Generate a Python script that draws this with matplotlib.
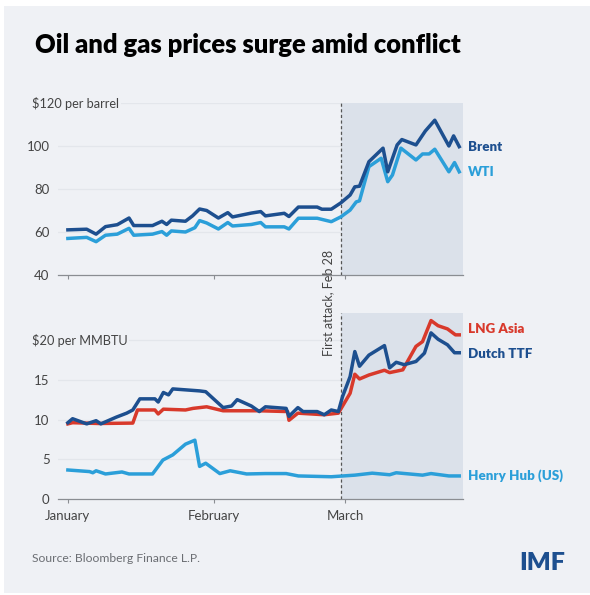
import matplotlib

matplotlib.use("Agg")
import matplotlib.pyplot as plt
from matplotlib.patches import Rectangle

plt.rcParams["font.family"] = ["Lato", "DejaVu Sans"]

# days counted from Jan 1
brent_days = [0, 4, 6, 8, 10.5, 13, 14, 18, 20, 21, 22, 25, 26.5, 28, 29.5, 32, 34, 35, 39, 41, 42,
              46, 47, 49, 53, 54, 56, 58, 60, 61, 62, 64, 67, 68, 70, 71, 74, 76, 78, 81, 82, 83.2]
brent = [61, 61.3, 59, 62.5, 63.4, 66.5, 63, 63, 65, 63.5, 65.5, 65, 67.5, 70.7, 70, 66.5, 69, 67, 68.8,
         69.5, 67.5, 68.7, 67.2, 71.6, 71.6, 70.6, 70.6, 73.5, 77.2, 81, 81.3, 92.7, 99, 88, 100.5, 103,
         100.5, 107, 112, 100, 104.7, 99.7]

wti_days = [0, 4, 6, 8, 10.5, 13, 14, 18, 20, 21, 22, 25, 27, 28, 29.5, 32, 34, 35, 39, 41, 42, 46, 47,
            49, 53, 56, 58, 60, 61.3, 62, 64, 66.6, 68, 69, 70.8, 74, 75.4, 76.8, 78, 81, 82.2, 83.2]
wti = [57, 57.5, 55.5, 58.5, 59, 61.7, 58.5, 59, 60.2, 58.5, 60.5, 60, 62, 65.3, 64.2, 61.4, 64.4, 62.8,
       63.5, 64.4, 62.4, 62.4, 61.4, 66.4, 66.4, 64.8, 67, 70.2, 74, 74.5, 90.4, 94.3, 83.4, 86.5, 99,
       93.5, 96.3, 96.3, 98.5, 88, 92.3, 88]

ttf_days = [0, 1, 4, 6, 7, 10.3, 12.5, 13.8, 15.3, 18.5, 19.2, 20.3, 21.4, 22.3, 28, 29.3, 33, 34.8, 36,
            39, 40.7, 42, 46.4, 47, 48.9, 50, 53, 54.5, 56, 57.5, 58.4, 60, 61, 62, 64, 67.3, 68.4,
            69.8, 71.5, 74, 75.8, 77.2, 78.7, 80.7, 82.2, 83.2]
ttf = [9.6, 10.1, 9.45, 9.85, 9.45, 10.3, 10.8, 11.2, 12.6, 12.6, 12.2, 13.4, 13.1, 13.85, 13.6, 13.5,
       11.5, 11.7, 12.5, 11.7, 11.0, 11.6, 11.4, 10.4, 11.5, 11.0, 11.0, 10.6, 11.2, 11.0, 12.9, 15.4,
       18.55, 16.7, 18.1, 19.3, 16.5, 17.2, 16.9, 17.3, 18.35, 20.9, 20.1, 19.4, 18.4, 18.4]

lng_days = [0, 1, 6.5, 13.8, 14.8, 18.5, 19.2, 20.3, 25, 26.6, 29.5, 33, 40.7, 46.7, 47, 48.9, 54.5,
            57.5, 60, 61, 62, 64, 67.3, 68.4, 71.2, 74, 75.4, 77.2, 78.7, 80.7, 82.4, 83.2]
lng = [9.45, 9.6, 9.5, 9.55, 11.2, 11.2, 10.7, 11.3, 11.2, 11.4, 11.6, 11.1, 11.1, 11.0, 9.9, 10.8,
       10.6, 10.8, 13.3, 15.7, 15.1, 15.6, 16.2, 15.9, 16.25, 19.2, 19.8, 22.45, 21.8, 21.4, 20.65, 20.65]

hh_days = [0, 4.6, 5.3, 6, 8, 11.5, 13, 18, 20.2, 22.3, 25, 27, 28, 29.3, 32.3, 34.5, 38, 42, 46.4,
           49, 56, 61, 64.7, 68.4, 69.8, 75.4, 77.2, 81, 83.2]
henry_hub = [3.65, 3.45, 3.3, 3.55, 3.15, 3.4, 3.15, 3.15, 4.9, 5.55, 6.9, 7.4, 4.1, 4.5, 3.2, 3.55,
             3.15, 3.2, 3.2, 2.9, 2.8, 3.0, 3.25, 3.05, 3.3, 3.0, 3.2, 2.9, 2.9]

month_days = [0, 31, 59]
month_labels = ["January", "February", "March"]
attack_day = 58

BG = "#eff1f5"
SHADE = "#dbe1ea"
GRID = "#e3e6eb"
TXT = "#444444"
NAVY = "#1d4f8f"
LIGHT = "#2b9fd9"
RED = "#d8392b"

fig = plt.figure(figsize=(5.9, 5.95), dpi=100, facecolor="white")
fig.patches.append(Rectangle((4 / 590, 0.003), 1, 1 - 6 / 595 - 0.003, transform=fig.transFigure,
                             facecolor=BG, edgecolor="none", zorder=-10))

left, width = 58 / 590, 405 / 590
ax_oil = fig.add_axes([left, 1 - 275 / 595, width, 172 / 595])
ax_gas = fig.add_axes([left, 1 - 499 / 595, width, 186 / 595])

xmax = 84.0


def style_axis(ax, ylim, yticks, unit_label, unit_value):
    ax.set_facecolor("none")
    ax.set_xlim(-2.1, xmax)
    ax.set_ylim(*ylim)
    for side in ["top", "right", "left"]:
        ax.spines[side].set_visible(False)
    ax.spines["bottom"].set_color("#8a8d92")
    ax.spines["bottom"].set_linewidth(0.9)
    ax.set_yticks(yticks)
    ax.set_yticklabels([str(v) for v in yticks])
    ax.tick_params(axis="y", length=0, pad=6, labelsize=9.5, labelcolor=TXT)
    ax.set_xticks(month_days)
    ax.tick_params(axis="x", length=3, color="#8a8d92", labelsize=9.5, labelcolor=TXT, pad=5)
    for v in yticks[1:] + [unit_value]:
        ax.axhline(v, color=GRID, lw=0.9, zorder=0)
    ax.axvspan(attack_day, xmax, color=SHADE, zorder=0.5, lw=0)
    ax.axvline(attack_day, color="#555555", lw=0.9, ls=(0, (2.5, 2)), zorder=1)
    ax.text(-0.065, unit_value, unit_label, transform=ax.get_yaxis_transform(), ha="left",
            va="center", fontsize=9.2, color=TXT,
            bbox=dict(facecolor=BG, edgecolor="none", pad=1.5))


style_axis(ax_oil, (40, 120), [40, 60, 80, 100], r"\$120 per barrel", 120)
ax_oil.set_xticklabels([])
ax_oil.plot(brent_days, brent, color=NAVY, lw=2.5, zorder=3, solid_joinstyle="round")
ax_oil.plot(wti_days, wti, color=LIGHT, lw=2.5, zorder=2, solid_joinstyle="round")
ax_oil.text(xmax + 1, brent[-1], "Brent", color=NAVY, fontsize=9.6, fontweight="heavy",
            va="center", clip_on=False)
ax_oil.text(xmax + 1, wti[-1], "WTI", color=LIGHT, fontsize=9.6, fontweight="heavy",
            va="center", clip_on=False)

style_axis(ax_gas, (0, 23.4), [0, 5, 10, 15], r"\$20 per MMBTU", 20)
ax_gas.set_xticklabels(month_labels)
ax_gas.plot(hh_days, henry_hub, color=LIGHT, lw=2.5, zorder=2, solid_joinstyle="round")
ax_gas.plot(lng_days, lng, color=RED, lw=2.5, zorder=2, solid_joinstyle="round")
ax_gas.plot(ttf_days, ttf, color=NAVY, lw=2.5, zorder=3, solid_joinstyle="round")
ax_gas.text(xmax + 1, 21.4, "LNG Asia", color=RED, fontsize=9.6, fontweight="heavy",
            va="center", clip_on=False)
ax_gas.text(xmax + 1, 18.3, "Dutch TTF", color=NAVY, fontsize=9.6, fontweight="heavy",
            va="center", clip_on=False)
ax_gas.text(xmax + 1, henry_hub[-1], "Henry Hub (US)", color=LIGHT, fontsize=9.6,
            fontweight="heavy", va="center", clip_on=False)

fig.text(328 / 590, 1 - 303 / 595, "First attack, Feb 28", rotation=90, ha="center",
         va="center", fontsize=9, color=TXT)

fig.text(35 / 590, 1 - 45 / 595, "Oil and gas prices surge amid conflict", fontsize=18.4,
         fontweight="heavy", color="black", va="center")
fig.text(32 / 590, 1 - 558 / 595, "Source: Bloomberg Finance L.P.", fontsize=8.7,
         color="#6b6e73", va="center")
fig.text(565 / 590, 1 - 563 / 595, "IMF", fontsize=18, fontweight="heavy", color=NAVY,
         ha="right", va="center")

fig.savefig("out.png", dpi=100, facecolor=fig.get_facecolor())
